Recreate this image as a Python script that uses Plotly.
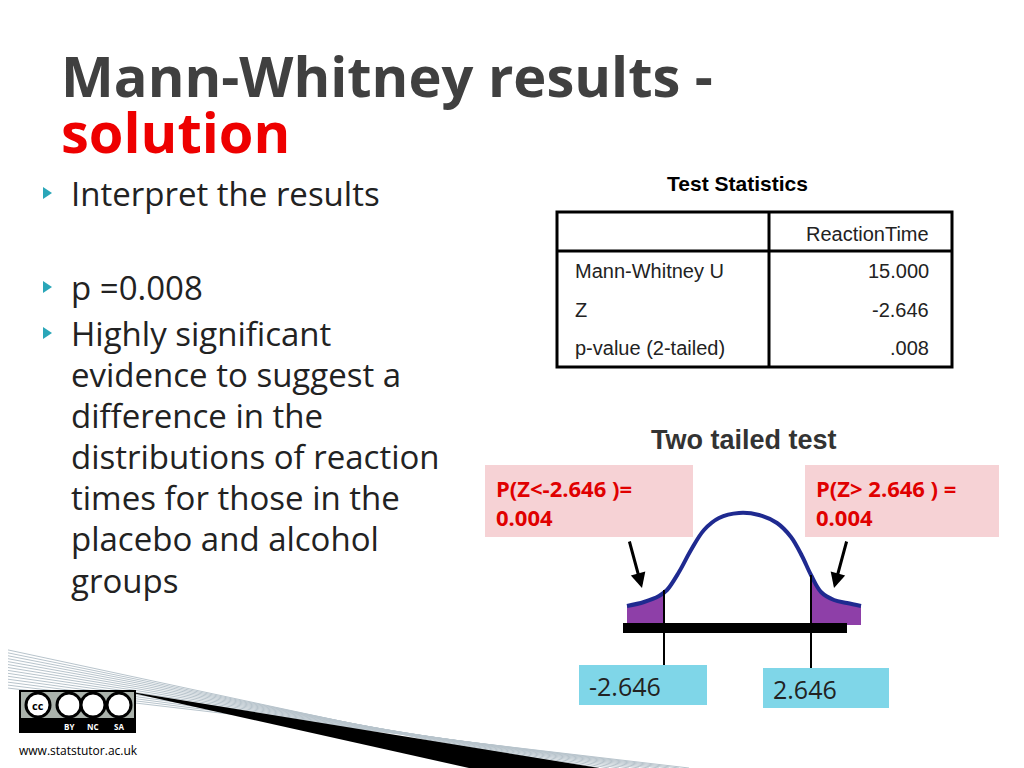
import plotly.graph_objects as go

bullets = ["Interpret the results", "p =0.008", "Highly significant"]
body_lines = ["evidence to suggest a", "difference in the", "distributions of reaction",
              "times for those in the", "placebo and alcohol", "groups"]
row_labels = ["Mann-Whitney U", "Z", "p-value (2-tailed)"]
row_values = ["15.000", "-2.646", ".008"]
# bell curve (pixel coords)
curve_x = [628, 645, 660, 668, 680, 692, 705, 720, 740, 760, 778, 792, 803, 812, 822, 835, 848, 862]
curve_y = [606, 602, 596, 590, 572, 550, 530, 518, 513, 515, 523, 537, 556, 575, 592, 600, 603, 606]
z_crit = [-2.646, 2.646]
tail_p = [0.004, 0.004]

W, H = 1024, 768
fig = go.Figure()
font = "Open Sans"
shapes, ann = [], []

def text(x, y, s, size, color="#222", bold=False, xa="left", ya="middle", fam=font):
    ann.append(dict(x=x, y=y, text=f"<b>{s}</b>" if bold else s, showarrow=False, xanchor=xa,
                    yanchor=ya, align=xa if xa != "center" else "center",
                    font=dict(size=size, color=color, family=fam)))

# bottom-left decoration
for i in range(14):
    shapes.append(dict(type="line", x0=0, y0=648 + i * 3, x1=560 + i * 10, y1=768,
                       line=dict(color="#b8c4cc", width=1)))
shapes.append(dict(type="path", path="M 120 690 L 600 768 L 470 768 Z", fillcolor="black", line_width=0))
shapes.append(dict(type="rect", x0=20, y0=690, x1=137, y1=733, fillcolor="black", line_width=0))
shapes.append(dict(type="rect", x0=22, y0=692, x1=135, y1=718, fillcolor="#aab2ab", line_width=0))
for cx in [39, 70, 94, 120]:
    shapes.append(dict(type="circle", x0=cx - 12, y0=693, x1=cx + 12, y1=717, fillcolor="white",
                       line=dict(color="black", width=3)))
text(39, 705, "cc", 11, "black", True, "center")
for cx, s in zip([70, 94, 120], ["BY", "NC", "SA"]):
    text(cx, 726, s, 8, "white", True, "center")
text(18, 750, "www.statstutor.ac.uk", 12, "black")

# title
text(60, 75, "Mann-Whitney results -", 56, "#404040", True)
text(60, 131, "solution", 56, "#ee0000", True)

# bullets
for y, s in zip([193, 287, 333], bullets):
    shapes.append(dict(type="path", path=f"M 44 {y-6} L 53 {y} L 44 {y+6} Z", fillcolor="#2aa6b8", line_width=0))
    text(70, y, s, 33)
for i, s in enumerate(body_lines):
    text(70, 374 + i * 41.2, s, 33)

# table
text(738, 183, "Test Statistics", 21, "black", True, "center", fam="Liberation Sans")
shapes.append(dict(type="rect", x0=558, y0=212, x1=953, y1=367, line=dict(color="black", width=3)))
shapes.append(dict(type="line", x0=558, y0=251, x1=953, y1=251, line=dict(color="black", width=3)))
shapes.append(dict(type="line", x0=770, y0=212, x1=770, y1=367, line=dict(color="black", width=3)))
text(932, 234, "ReactionTime", 20, "#222", xa="right", fam="Liberation Sans")
for i, (l, v) in enumerate(zip(row_labels, row_values)):
    y = 271 + i * 38.5
    text(574, y, l, 20, "#222", fam="Liberation Sans")
    text(932, y, v, 20, "#222", xa="right", fam="Liberation Sans")

# curve figure
text(745, 440, "Two tailed test", 27, "#333", True, "center", fam="Liberation Sans")
xl, xr = 665, 812
lx = [x for x in curve_x if x <= xl] + [xl]
ly = [y for x, y in zip(curve_x, curve_y) if x <= xl] + [590]
fig.add_trace(go.Scatter(x=lx + [xl, curve_x[0]], y=ly + [625, 625], fill="toself",
                         fillcolor="#8e3fa8", line_width=0, mode="lines", hoverinfo="skip"))
rx = [xr] + [x for x in curve_x if x >= xr]
ry = [575] + [y for x, y in zip(curve_x, curve_y) if x >= xr]
fig.add_trace(go.Scatter(x=rx + [curve_x[-1], xr], y=ry + [625, 625], fill="toself",
                         fillcolor="#8e3fa8", line_width=0, mode="lines", hoverinfo="skip"))
fig.add_trace(go.Scatter(x=curve_x, y=curve_y, mode="lines", line=dict(color="#1f2a90", width=4),
                         line_shape="spline", hoverinfo="skip"))
shapes.append(dict(type="rect", x0=624, y0=623, x1=848, y1=633, fillcolor="black", line_width=0))
for x, y0 in [(xl, 590), (xr, 575)]:
    shapes.append(dict(type="line", x0=x, y0=y0, x1=x, y1=668, line=dict(color="black", width=2)))
# arrows
for x0, x1 in [(630, 643), (848, 835)]:
    ann.append(dict(x=x1, y=588, ax=x0, ay=540, axref="x", ayref="y", showarrow=True,
                    arrowhead=2, arrowwidth=3, arrowcolor="black", text=""))

for (x0, x1), z, p in zip([(486, 694), (806, 1000)], z_crit, tail_p):
    shapes.append(dict(type="rect", x0=x0, y0=465, x1=x1, y1=537, fillcolor="#f6d2d5", line_width=0))
    op = "<" if z < 0 else "> "
    text(x0 + 9, 502, f"P(Z{op}{z:.3f} )" + ("=" if z < 0 else " =") + f"<br>{p:.3f}", 22, "#e00000", True)
for (x0, x1, y0), z in zip([(580, 708, 665), (764, 890, 668)], z_crit):
    shapes.append(dict(type="rect", x0=x0, y0=y0, x1=x1, y1=y0 + 40, fillcolor="#7fd6e8", line_width=0))
    text(x0 + 8, y0 + 21, f"{z:.3f}", 25, "#222")

fig.update_layout(width=W, height=H, margin=dict(l=0, r=0, t=0, b=0), showlegend=False,
                  plot_bgcolor="white", paper_bgcolor="white", shapes=shapes, annotations=ann,
                  xaxis=dict(range=[9, W + 9], visible=False, fixedrange=True),
                  yaxis=dict(range=[H + 8, 8], visible=False, fixedrange=True))
fig.write_html("out.html")
